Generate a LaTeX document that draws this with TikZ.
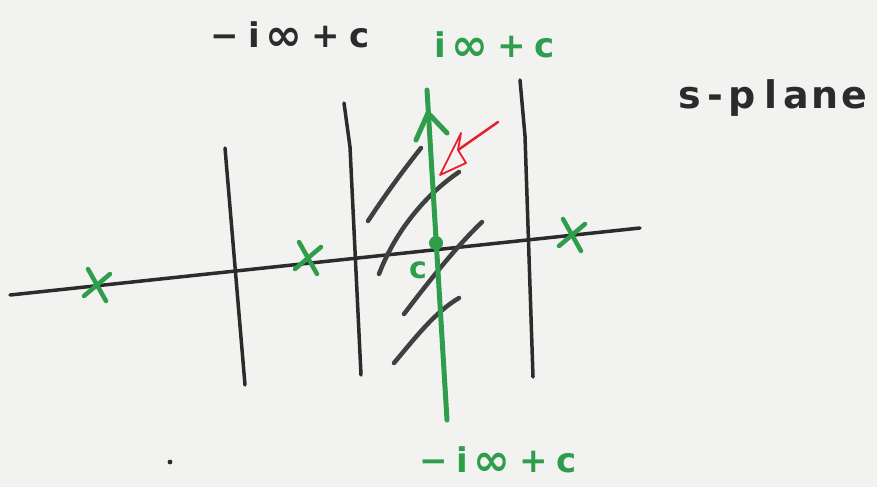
\documentclass[tikz,border=0pt]{standalone}
\usepackage{fontspec}
\setmainfont{DejaVu Sans}
\definecolor{ink}{HTML}{2B2B2B}
\definecolor{mgreen}{HTML}{2E9E4C}
\definecolor{mred}{HTML}{E8202C}
\definecolor{paper}{HTML}{F2F2F0}
\tikzset{
  inkline/.style={draw=ink, line width=3.5pt, line cap=round, line join=round},
  hatchline/.style={draw=ink!90, line width=4.5pt, line cap=round},
  grline/.style={draw=mgreen, line width=5pt, line cap=round, line join=round},
  crossst/.style={draw=mgreen, line width=4.5pt, line cap=round},
  lbl/.style={anchor=base, inner sep=0pt, font=\fontsize{34}{34}\selectfont\bfseries},
}
\newcommand\gp{\hspace{9pt}}
\newcommand\myinf{\raisebox{-3pt}{\scalebox{1.3}{∞}}}
\begin{document}
\begin{tikzpicture}[x=1pt,y=-1pt]
\fill[paper] (0,0) rectangle (877,487);
\useasboundingbox (0,0) rectangle (877,487);
% real axis
\coordinate (ax1) at (10,295);
\coordinate (ax2) at (640,228);
\draw[inkline] (ax1) -- (ax2);
% vertical black lines
\coordinate (v1a) at (225,148); \coordinate (v1b) at (245,385);
\draw[inkline] (v1a) -- (v1b);
\coordinate (v2a) at (344,103); \coordinate (v2k) at (350,147); \coordinate (v2b) at (361,375);
\draw[inkline] (v2a) -- (v2k) -- (v2b);
\coordinate (v3a) at (520,80); \coordinate (v3k) at (525,136); \coordinate (v3b) at (533,377);
\draw[inkline] (v3a) -- (v3k) -- (v3b);
% hatch lines
\coordinate (h1a) at (368,221); \coordinate (h1b) at (421,148);
\coordinate (h2a) at (379,274); \coordinate (h2b) at (459,172);
\coordinate (h3a) at (404,314); \coordinate (h3b) at (482,222);
\coordinate (h4a) at (394,363); \coordinate (h4b) at (459,298);
\draw[hatchline] (h1a) .. controls (385,195) and (405,168) .. (h1b);
\draw[hatchline] (h2a) .. controls (395,232) and (425,195) .. (h2b);
\draw[hatchline] (h3a) .. controls (430,280) and (455,248) .. (h3b);
\draw[hatchline] (h4a) .. controls (415,338) and (435,312) .. (h4b);
% green contour line with arrow
\coordinate (g1) at (427,90); \coordinate (g2) at (447,420);
\draw[grline] (g1) -- (g2);
\coordinate (gt) at (428,113); \coordinate (gl) at (416,140); \coordinate (gr) at (447,133);
\draw[grline] (gl) -- (gt) -- (gr);
\fill[mgreen] (436,243) circle (7pt);
\node[lbl, text=mgreen, font=\fontsize{30}{30}\selectfont\bfseries] (cl) at (418,278) {c};
% crosses (poles)
\foreach \n/\cx/\cy in {p1/97/285, p2/308/258, p3/572/235}{
  \coordinate (\n) at (\cx,\cy);
  \draw[crossst] ([shift={(-9,-16)}]\n) -- ([shift={(9,16)}]\n);
  \draw[crossst] ([shift={(-13,11)}]\n) -- ([shift={(13,-11)}]\n);
}
% red arrow
\coordinate (r1) at (498,122); \coordinate (rt) at (440,175);
\coordinate (rw1) at (461,133); \coordinate (rw2) at (466,163);
\draw[mred, line width=2.5pt, line cap=round] (r1) -- (458,150);
\draw[mred, line width=1.8pt, line join=round] (rt) -- (rw1) -- (458,150) -- (rw2) -- cycle;
% labels
\node[lbl, text=ink] (ltop) at (290,48) {−\gp i\hspace{6pt}\myinf\gp+\gp c};
\node[lbl, text=mgreen] (gtop) at (495,58) {i\hspace{5pt}\myinf\gp+\gp c};
\node[lbl, text=mgreen, text depth=0pt] (gbot) at (498,472) {−\gp i\hspace{5pt}\myinf\gp+\gp c};
\node[lbl, text=ink, font=\fontsize{38}{38}\selectfont\bfseries] (sp) at (773,108) {s\hspace{6pt}-\hspace{6pt}p\hspace{8pt}l\hspace{6pt}a\hspace{3pt}n\hspace{3pt}e};
\fill[ink] (170,462) circle (2.4pt);
\end{tikzpicture}
\end{document}
